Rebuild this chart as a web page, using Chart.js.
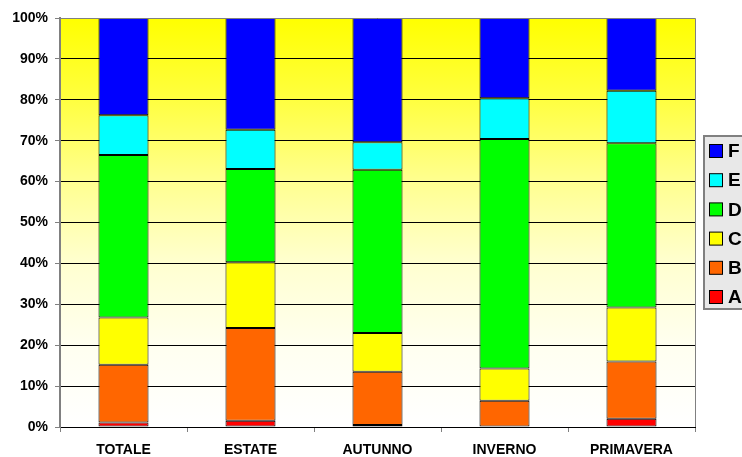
<!DOCTYPE html>
<html>
<head>
<meta charset="utf-8">
<script src="https://cdn.jsdelivr.net/npm/chart.js@4"></script>
<style>
  body { margin: 0; background: #fff; }
  #wrap { width: 742px; height: 457px; position: relative; }
</style>
</head>
<body>
<div id="wrap"><canvas id="chart"></canvas></div>
<script>
const categories = ["TOTALE", "ESTATE", "AUTUNNO", "INVERNO", "PRIMAVERA"];
const seriesA = [1.1, 1.5, 0.5, 0.0, 2.0];
const seriesB = [14.1, 22.7, 13.0, 6.4, 14.0];
const seriesC = [11.6, 16.1, 9.5, 7.9, 13.2];
const seriesD = [39.7, 22.8, 39.9, 56.1, 40.2];
const seriesE = [9.7, 9.6, 6.7, 10.0, 12.8];
const seriesF = [23.8, 27.3, 30.4, 19.6, 17.8];
const yTicks = [0, 10, 20, 30, 40, 50, 60, 70, 80, 90, 100];

const FONT = "Arial, 'Liberation Sans', sans-serif";

function ds(label, data, color) {
    return {
        label: label,
        data: data,
        backgroundColor: color,
        borderColor: "#000000",
        borderWidth: 1,
        borderSkipped: false,
        barPercentage: 0.394,
        categoryPercentage: 1.0
    };
}

// yellow -> white background behind the plot
const bgPlugin = {
    id: "bgPlugin",
    beforeDraw(chart) {
        const { ctx, chartArea: a } = chart;
        const g = ctx.createLinearGradient(0, a.top, 0, a.bottom);
        g.addColorStop(0, "#ffff00");
        g.addColorStop(0.2, "#ffff40");
        g.addColorStop(0.4, "#ffff90");
        g.addColorStop(0.6, "#ffffd0");
        g.addColorStop(0.8, "#fffff0");
        g.addColorStop(1, "#ffffff");
        ctx.save();
        ctx.fillStyle = g;
        ctx.fillRect(a.left, a.top, a.right - a.left, a.bottom - a.top);
        ctx.restore();
    },
    afterDraw(chart) {
        const { ctx, chartArea: a } = chart;
        ctx.save();
        ctx.strokeStyle = "#808080";
        ctx.lineWidth = 1;
        ctx.beginPath();
        ctx.moveTo(a.left, a.top + 0.5);
        ctx.lineTo(a.right + 0.5, a.top + 0.5);
        ctx.lineTo(a.right + 0.5, a.bottom);
        ctx.stroke();

        // legend box, reversed order
        const sets = chart.data.datasets.slice().reverse();
        ctx.fillStyle = "#e8e8e8";
        ctx.fillRect(703, 135, 60, 175);
        ctx.lineWidth = 2;
        ctx.strokeStyle = "#808080";
        ctx.strokeRect(704, 136, 60, 173);
        ctx.font = "bold 19px " + FONT;
        ctx.textBaseline = "middle";
        sets.forEach((d, i) => {
            const y = 151 + i * 29.2;
            ctx.fillStyle = d.backgroundColor;
            ctx.fillRect(709.5, y - 6.5, 13, 13);
            ctx.lineWidth = 1;
            ctx.strokeStyle = "#000";
            ctx.strokeRect(709.5, y - 6.5, 13, 13);
            ctx.fillStyle = "#000";
            ctx.fillText(d.label, 728, y + 1);
        });
        ctx.restore();
    }
};

new Chart(document.getElementById("chart"), {
    type: "bar",
    data: {
        labels: categories,
        datasets: [
            ds("A", seriesA, "#ff0000"),
            ds("B", seriesB, "#ff6600"),
            ds("C", seriesC, "#ffff00"),
            ds("D", seriesD, "#00ff00"),
            ds("E", seriesE, "#00ffff"),
            ds("F", seriesF, "#0000ff")
        ]
    },
    options: {
        responsive: true,
        maintainAspectRatio: false,
        animation: false,
        layout: { padding: { top: 18, right: 47, left: 0, bottom: 0 } },
        plugins: {
            legend: { display: false },
            tooltip: { enabled: false }
        },
        scales: {
            x: {
                stacked: true,
                afterFit(scale) { scale.height = 30; },
                grid: {
                    offset: true,
                    drawOnChartArea: false,
                    tickLength: 5,
                    tickColor: "#808080"
                },
                border: { color: "#000000", width: 1 },
                ticks: {
                    color: "#000",
                    padding: 10,
                    font: { family: FONT, size: 14, weight: "bold" }
                }
            },
            y: {
                stacked: true,
                min: 0,
                max: 100,
                afterFit(scale) { scale.width = 60; },
                afterBuildTicks(scale) { scale.ticks = yTicks.map(v => ({ value: v })); },
                grid: {
                    color: "#000000",
                    lineWidth: 1,
                    tickLength: 5,
                    tickColor: "#808080"
                },
                border: { color: "#808080", width: 2 },
                ticks: {
                    color: "#000",
                    padding: 7,
                    font: { family: FONT, size: 14, weight: "bold" },
                    callback: v => v + "%"
                }
            }
        }
    },
    plugins: [bgPlugin]
});
</script>
</body>
</html>
